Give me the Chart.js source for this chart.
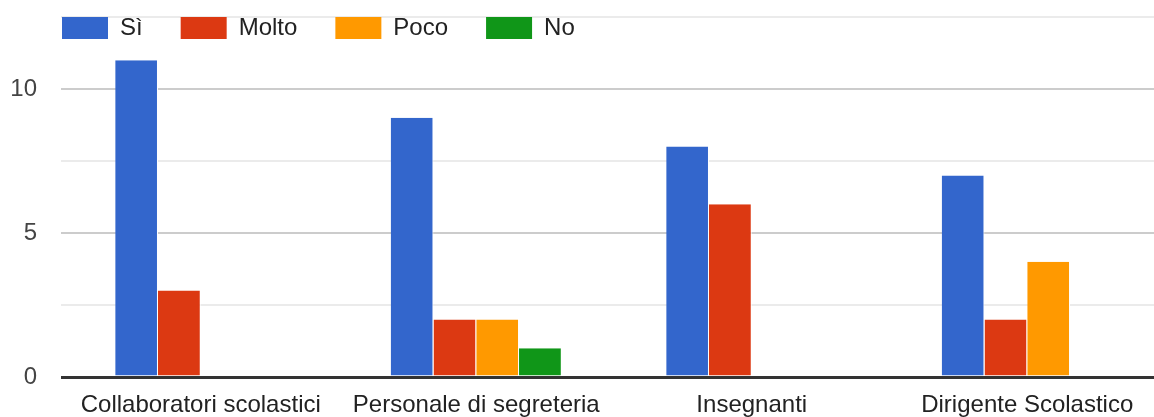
<!DOCTYPE html>
<html>
<head>
<meta charset="utf-8">
<script src="https://cdn.jsdelivr.net/npm/chart.js@4/dist/chart.umd.min.js"></script>
<style>
  html, body { margin: 0; padding: 0; background: #fff; overflow: hidden; }
  #wrap { width: 1165px; height: 417px; position: relative; }
</style>
</head>
<body>
<div id="wrap"><canvas id="c"></canvas></div>
<script>
const categories = ["Collaboratori scolastici", "Personale di segreteria", "Insegnanti", "Dirigente Scolastico"];
const seriesNames = ["Sì", "Molto", "Poco", "No"];
const valuesSi    = [11, 9, 8, 7];
const valuesMolto = [3, 2, 6, 2];
const valuesPoco  = [0, 2, 0, 4];
const valuesNo    = [0, 1, 0, 0];
const seriesColors = ["#3366cc", "#dc3912", "#ff9900", "#109618"];
const yTickLabels = [0, 5, 10];

const seriesValues = [valuesSi, valuesMolto, valuesPoco, valuesNo];
const FONT = "Arial, 'Liberation Sans', sans-serif";

// Place the built-in legend at the top-left, overlapping the top of the plot like the original.
const legendPlacer = {
  id: 'legendPlacer',
  beforeDraw(chart) {
    const l = chart.legend;
    if (!l) return;
    l.left = 24;
    l.top = -22;
    l.right = chart.width;
    l.bottom = 60;
    l.width = l.right - l.left;
    l.height = l.bottom - l.top;
  }
};

new Chart(document.getElementById('c'), {
  type: 'bar',
  data: {
    labels: categories,
    datasets: seriesNames.map((name, i) => ({
      label: name,
      data: seriesValues[i],
      backgroundColor: seriesColors[i],
      borderColor: '#ffffff',
      borderWidth: { left: 0, right: 1, top: 0, bottom: 0 },
      borderSkipped: false,
      categoryPercentage: 0.621,
      barPercentage: 1.0
    }))
  },
  plugins: [legendPlacer],
  options: {
    responsive: true,
    maintainAspectRatio: false,
    animation: false,
    layout: { padding: { top: 16, left: 0, right: 0, bottom: 0 } },
    plugins: {
      tooltip: { enabled: false },
      legend: {
        position: 'top',
        align: 'start',
        maxHeight: 1,
        labels: {
          boxWidth: 46,
          boxHeight: 22,
          padding: 38,
          color: '#222222',
          font: { family: FONT, size: 24 },
          generateLabels: (chart) => chart.data.datasets.map((ds, i) => ({
            text: ds.label,
            fillStyle: ds.backgroundColor,
            strokeStyle: ds.backgroundColor,
            lineWidth: 0,
            fontColor: '#222222',
            hidden: false,
            datasetIndex: i
          }))
        }
      }
    },
    scales: {
      x: {
        grid: { display: false, drawTicks: false },
        border: { display: false },
        ticks: {
          color: '#222222',
          font: { family: FONT, size: 24 },
          padding: 14,
          maxRotation: 0,
          autoSkip: false
        },
        afterFit: (s) => { s.height = 40; }
      },
      y: {
        min: 0,
        max: 12.5,
        border: { display: false },
        grid: {
          drawTicks: true,
          tickLength: 2,
          color: (ctx) => {
            const v = ctx.tick ? ctx.tick.value : null;
            if (v === 0) return '#333333';
            if (yTickLabels.includes(v)) return '#cccccc';
            return '#ebebeb';
          },
          lineWidth: (ctx) => (ctx.tick && ctx.tick.value === 0) ? 3 : 2
        },
        ticks: {
          stepSize: 2.5,
          color: '#444444',
          font: { family: FONT, size: 24 },
          padding: 24,
          callback: (v) => yTickLabels.includes(v) ? String(v) : ''
        },
        afterFit: (s) => { s.width = 63; s.paddingTop = 0; s.paddingBottom = 0; }
      }
    }
  }
});
</script>
</body>
</html>
